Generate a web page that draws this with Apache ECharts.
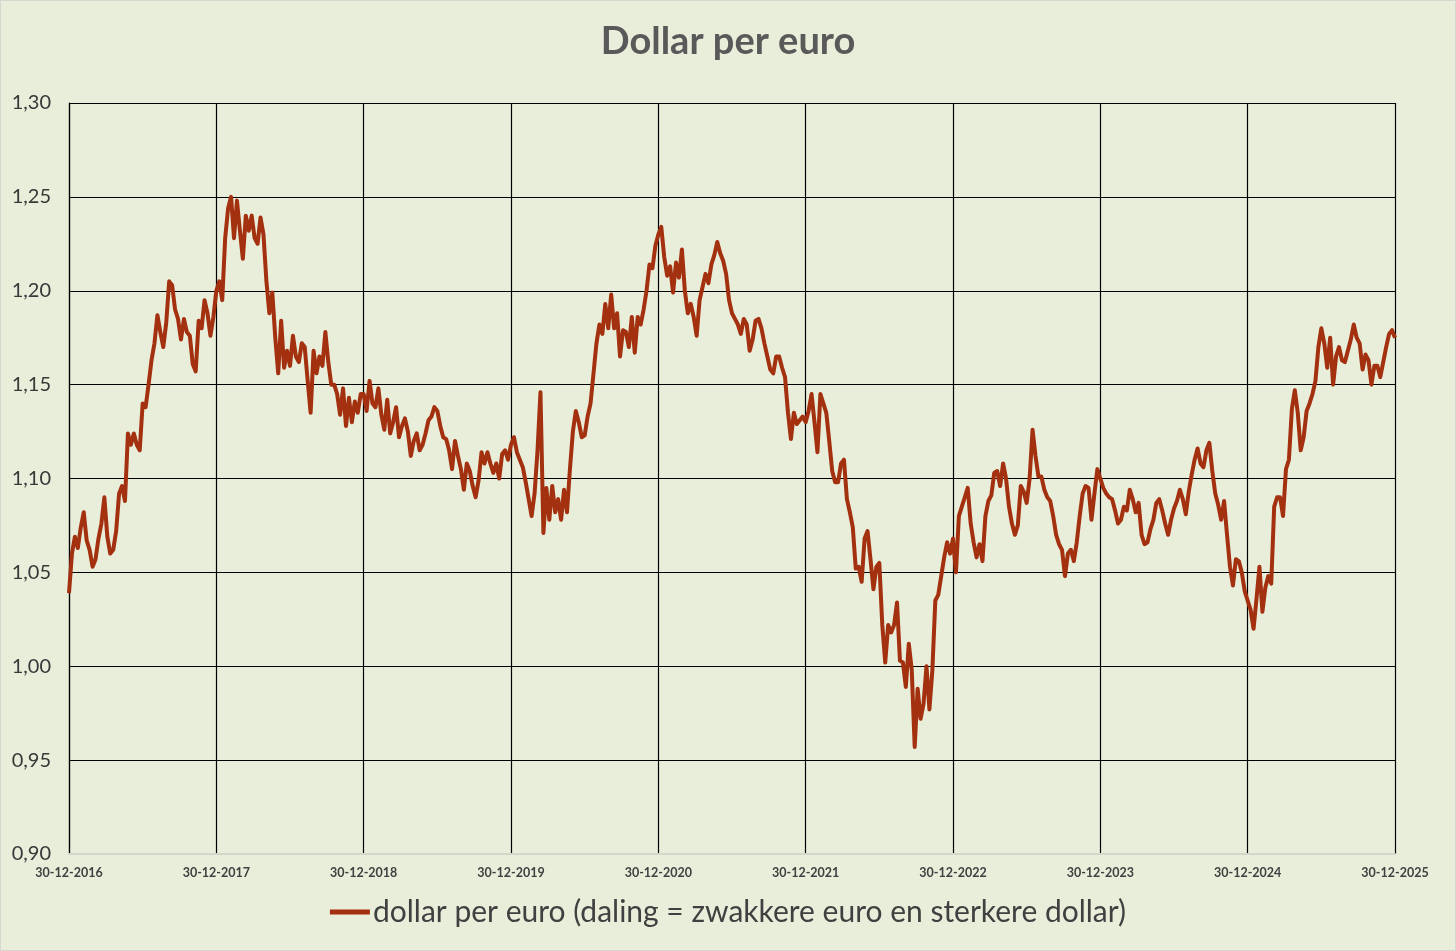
<!DOCTYPE html>
<html>
<head>
<meta charset="utf-8">
<script src="https://cdn.jsdelivr.net/npm/echarts@6/dist/echarts.min.js"></script>
<style>
html,body{margin:0;padding:0;background:#e9eedb;}
#chart{width:1456px;height:951px;box-sizing:border-box;border:1px solid #d6d8d0;}
</style>
</head>
<body>
<div id="chart"></div>
<script>
// Dollar per euro, sampled 50 times per year (year ending 30-12-YYYY)
const yearTickLabels = ['30-12-2016','30-12-2017','30-12-2018','30-12-2019','30-12-2020','30-12-2021','30-12-2022','30-12-2023','30-12-2024','30-12-2025'];
const y2017 = [1.039,1.060,1.069,1.063,1.074,1.082,1.067,1.062,1.053,1.057,1.068,1.076,1.090,1.069,1.060,1.062,1.072,1.092,1.096,1.088,1.124,1.118,1.124,1.118,1.115,1.140,1.138,1.150,1.163,1.172,1.187,1.178,1.170,1.183,1.205,1.203,1.190,1.185,1.174,1.185,1.178,1.176,1.161,1.157,1.184,1.180,1.195,1.188,1.176,1.186];
const y2018 = [1.200,1.205,1.195,1.228,1.244,1.250,1.228,1.248,1.232,1.217,1.240,1.232,1.240,1.228,1.225,1.239,1.230,1.205,1.188,1.199,1.175,1.156,1.184,1.159,1.168,1.160,1.176,1.165,1.162,1.172,1.170,1.152,1.135,1.168,1.156,1.165,1.160,1.178,1.162,1.150,1.150,1.145,1.134,1.148,1.128,1.143,1.130,1.141,1.135,1.145];
const y2019 = [1.145,1.136,1.152,1.140,1.138,1.148,1.134,1.126,1.142,1.124,1.130,1.138,1.122,1.128,1.132,1.125,1.112,1.120,1.124,1.115,1.118,1.124,1.131,1.133,1.138,1.136,1.128,1.122,1.121,1.115,1.105,1.120,1.112,1.105,1.094,1.108,1.104,1.096,1.090,1.099,1.114,1.108,1.114,1.108,1.103,1.108,1.100,1.113,1.115,1.110];
const y2020 = [1.118,1.122,1.114,1.110,1.106,1.098,1.089,1.080,1.092,1.115,1.146,1.071,1.095,1.078,1.096,1.082,1.089,1.078,1.094,1.082,1.105,1.125,1.136,1.130,1.122,1.123,1.133,1.140,1.156,1.172,1.182,1.177,1.193,1.180,1.198,1.180,1.188,1.165,1.179,1.178,1.170,1.186,1.167,1.186,1.182,1.190,1.200,1.214,1.212,1.224];
const y2021 = [1.230,1.234,1.218,1.208,1.213,1.199,1.215,1.207,1.222,1.200,1.188,1.193,1.186,1.176,1.195,1.202,1.209,1.204,1.214,1.219,1.226,1.220,1.216,1.209,1.195,1.188,1.185,1.182,1.177,1.185,1.182,1.168,1.174,1.184,1.185,1.180,1.172,1.165,1.158,1.156,1.165,1.165,1.159,1.154,1.135,1.121,1.135,1.129,1.131,1.133];
const y2022 = [1.130,1.136,1.145,1.130,1.114,1.145,1.140,1.135,1.120,1.104,1.098,1.098,1.108,1.110,1.089,1.082,1.074,1.052,1.053,1.045,1.068,1.072,1.057,1.041,1.053,1.055,1.022,1.002,1.022,1.018,1.022,1.034,1.003,1.002,0.989,1.012,0.998,0.957,0.988,0.972,0.980,1.000,0.977,0.998,1.035,1.038,1.048,1.058,1.066,1.060];
const y2023 = [1.068,1.050,1.080,1.085,1.090,1.095,1.076,1.066,1.058,1.065,1.056,1.080,1.088,1.091,1.103,1.104,1.096,1.108,1.100,1.085,1.076,1.070,1.075,1.096,1.093,1.087,1.100,1.126,1.112,1.101,1.101,1.094,1.090,1.088,1.080,1.070,1.065,1.062,1.048,1.060,1.062,1.056,1.066,1.080,1.092,1.096,1.095,1.078,1.092,1.105];
const y2024 = [1.100,1.095,1.092,1.090,1.089,1.083,1.076,1.078,1.085,1.083,1.094,1.089,1.082,1.087,1.070,1.065,1.066,1.073,1.078,1.087,1.089,1.083,1.076,1.070,1.078,1.084,1.088,1.094,1.089,1.081,1.093,1.102,1.110,1.116,1.108,1.106,1.115,1.119,1.104,1.092,1.086,1.078,1.088,1.070,1.053,1.043,1.057,1.056,1.050,1.040];
const y2025 = [1.035,1.030,1.020,1.036,1.053,1.029,1.042,1.048,1.044,1.085,1.090,1.090,1.080,1.105,1.110,1.137,1.147,1.135,1.115,1.122,1.136,1.140,1.145,1.152,1.170,1.180,1.172,1.159,1.175,1.150,1.165,1.170,1.163,1.162,1.168,1.174,1.182,1.175,1.172,1.158,1.166,1.163,1.150,1.160,1.160,1.154,1.162,1.170,1.177,1.179];
const lastValue = 1.175;
const yearArrays = [y2017,y2018,y2019,y2020,y2021,y2022,y2023,y2024,y2025];

const data = [];
yearArrays.forEach((arr, k) => {
  arr.forEach((v, j) => data.push([k + j / arr.length, v]));
});
data.push([yearArrays.length, lastValue]);

const chart = echarts.init(document.getElementById('chart'), null, {renderer: 'canvas'});
const FONT = 'Lato, "Open Sans", sans-serif';
const seriesName = 'dollar per euro (daling = zwakkere euro en sterkere dollar)';
chart.setOption({
  backgroundColor: '#e9eedb',
  animation: false,
  title: {
    text: 'Dollar per euro',
    left: 'center',
    top: 17,
    textStyle: {fontFamily: FONT, fontSize: 38, fontWeight: 'bold', color: '#595959'}
  },
  grid: {left: 68, right: 60, top: 102, bottom: 96, containLabel: false},
  legend: {
    bottom: 18,
    left: 'center',
    icon: 'rect',
    itemWidth: 40,
    itemHeight: 5,
    itemGap: 4,
    textStyle: {fontFamily: FONT, fontSize: 30, color: '#404040', padding: [0,0,0,-2]},
    data: [seriesName]
  },
  xAxis: {
    type: 'value',
    min: 0,
    max: 9,
    interval: 1,
    axisLine: {show: true, lineStyle: {color: '#d4d6cc', width: 2}},
    axisTick: {show: false},
    splitLine: {show: true, lineStyle: {color: '#000', width: 1.2}},
    axisLabel: {
      margin: 12,
      fontFamily: FONT, fontSize: 12.5, fontWeight: 'bold', color: '#404040',
      formatter: v => yearTickLabels[Math.round(v)]
    }
  },
  yAxis: {
    type: 'value',
    min: 0.9,
    max: 1.3,
    interval: 0.05,
    axisLine: {show: true, lineStyle: {color: '#000', width: 1.2}},
    axisTick: {show: false},
    splitLine: {show: true, lineStyle: {color: '#000', width: 1.2}},
    axisLabel: {
      margin: 18,
      fontFamily: FONT, fontSize: 20, color: '#383838',
      formatter: v => v.toFixed(2).replace('.', ',')
    }
  },
  series: [{
    name: seriesName,
    type: 'line',
    data: data,
    showSymbol: false,
    symbol: 'none',
    lineStyle: {color: '#a3300f', width: 4, join: 'round'},
    itemStyle: {color: '#a3300f'}
  }]
});
</script>
</body>
</html>
